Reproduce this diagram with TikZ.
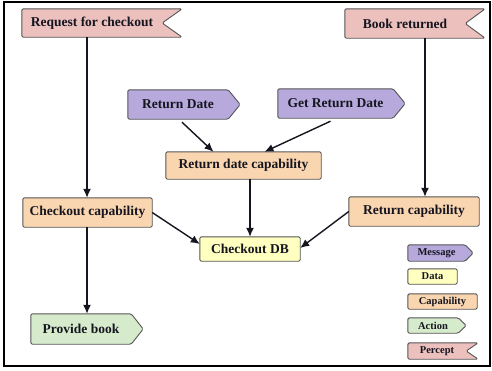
\documentclass[tikz,border=0pt]{standalone}
\usepackage{fontspec}
\setmainfont{Liberation Serif}
\usetikzlibrary{arrows.meta,backgrounds,calc}

\definecolor{perceptfill}{HTML}{EBC0BD}
\definecolor{messagefill}{HTML}{B7A9DC}
\definecolor{capfill}{HTML}{FAD6B0}
\definecolor{datafill}{HTML}{FFFFC0}
\definecolor{actionfill}{HTML}{D6EBCC}
\definecolor{edgegray}{HTML}{555555}
\definecolor{inkdark}{HTML}{151520}

\tikzset{
  box/.style={inner sep=0pt, font=\bfseries\fontsize{13.5}{16}\selectfont, text=inkdark},
  keybox/.style={inner sep=0pt, font=\bfseries\fontsize{10.5}{12}\selectfont, text=inkdark},
  outline/.style={draw=edgegray, line width=0.9pt, rounded corners=1.5pt},
  flow/.style={line width=1.4pt, inkdark, -{Latex[length=9pt,width=8pt]}},
}

% shape outlines drawn behind a named node
\newcommand\perceptshape[3]{\path[outline, fill=#3] (#1.north west) -- ([xshift=#2]#1.north east) -- (#1.east) -- ([xshift=#2]#1.south east) -- (#1.south west) -- cycle;}
\newcommand\signalshape[3]{\path[outline, fill=#3] (#1.north west) -- (#1.north east) -- ([xshift=#2]#1.east) -- (#1.south east) -- (#1.south west) -- cycle;}
\newcommand\plainshape[2]{\path[outline, fill=#2] (#1.north west) rectangle (#1.south east);}

\begin{document}
\begin{tikzpicture}[x=1pt, y=-1pt]
\useasboundingbox (0,0) rectangle (492,370);
\draw[line width=2pt] (4,2) rectangle (490,366);

% percepts
\node[box, minimum width=140, minimum height=28] (req) at (92,23) {Request for checkout};
\node[box, minimum width=120, minimum height=29] (book) at (405,23.5) {Book returned};

% messages
\node[box, minimum width=100, minimum height=29] (rd) at (178,104.5) {Return Date};
\node[box, minimum width=115, minimum height=29] (grd) at (335.5,103.5) {Get Return Date};

% capabilities
\node[box, minimum width=155, minimum height=27] (rdc) at (243.5,165.5) {Return date capability};
\node[box, minimum width=129, minimum height=29] (chk) at (87.5,212.5) {Checkout capability};
\node[box, minimum width=130, minimum height=29] (ret) at (414,211.5) {Return capability};

% data
\node[box, minimum width=100, minimum height=24] (db) at (250,249) {Checkout DB};

% action
\node[box, minimum width=100, minimum height=30] (prov) at (81,329) {Provide book};

% key
\node[keybox, minimum width=57, minimum height=16] (kmsg) at (436.5,253) {Message};
\node[keybox, minimum width=49, minimum height=15] (kdata) at (432.5,276.5) {Data};
\node[keybox, minimum width=69, minimum height=15] (kcap) at (442.5,301.5) {Capability};
\node[keybox, minimum width=50, minimum height=15] (kact) at (433,325.5) {Action};
\node[keybox, minimum width=58, minimum height=16] (kper) at (437,351) {Percept};

\begin{pgfonlayer}{background}
  \perceptshape{req}{20pt}{perceptfill}
  \perceptshape{book}{20pt}{perceptfill}
  \signalshape{rd}{12pt}{messagefill}
  \signalshape{grd}{12pt}{messagefill}
  \plainshape{rdc}{capfill}
  \plainshape{chk}{capfill}
  \plainshape{ret}{capfill}
  \plainshape{db}{datafill}
  \signalshape{prov}{12pt}{actionfill}
  \signalshape{kmsg}{8pt}{messagefill}
  \plainshape{kdata}{datafill}
  \plainshape{kcap}{capfill}
  \signalshape{kact}{8pt}{actionfill}
  \perceptshape{kper}{12pt}{perceptfill}
\end{pgfonlayer}

% connectors
\draw[flow] ([xshift=-0.5pt]chk.north |- req.south) -- ([xshift=-0.5pt]chk.north);
\draw[flow] ([xshift=11pt]ret.north |- book.south) -- ([xshift=11pt]ret.north);
\draw[flow] ([xshift=4pt,yshift=-3pt]rd.south) -- ([xshift=-30pt]rdc.north);
\draw[flow] ([xshift=-5pt,yshift=-3pt]grd.south) -- ([xshift=21pt]rdc.north);
\draw[flow] (db.north |- rdc.south) -- (db.north);
\draw[flow] (chk.east) -- ([yshift=5pt]db.west);
\draw[flow] (ret.west) -- ([yshift=1pt]db.east);
\draw[flow] ([xshift=-0.5pt]chk.south) -- ([xshift=-0.5pt]chk.south |- prov.north);
\end{tikzpicture}
\end{document}
